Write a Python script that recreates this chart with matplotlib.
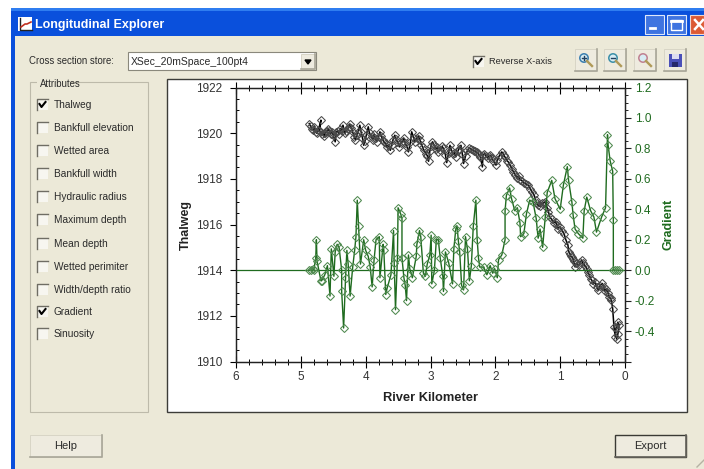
import matplotlib
matplotlib.use('Agg')
import matplotlib.pyplot as plt
from matplotlib.patches import Rectangle, Circle, Polygon
from matplotlib.lines import Line2D
from matplotlib.ticker import MultipleLocator

plt.rcParams['font.family'] = ['Liberation Sans', 'DejaVu Sans']

# river km / elevation of the thalweg
thalweg_km = [4.87, 4.85, 4.83, 4.81, 4.79, 4.77, 4.75, 4.73, 4.69, 4.71, 4.67, 4.65, 4.64, 4.62, 4.60, 4.58, 4.56,
              4.54, 4.52, 4.50, 4.47, 4.45, 4.43, 4.41, 4.39, 4.37, 4.35, 4.32, 4.30, 4.28, 4.26, 4.24, 4.22, 4.20,
              4.18, 4.16, 4.14, 4.12, 4.09, 4.07, 4.05, 4.03, 4.01, 3.99, 3.96, 3.94, 3.91, 3.89, 3.87, 3.85, 3.83,
              3.80, 3.78, 3.76, 3.74, 3.71, 3.69, 3.67, 3.65, 3.62, 3.60, 3.58, 3.55, 3.53, 3.51, 3.48, 3.46, 3.43,
              3.41, 3.39, 3.36, 3.34, 3.31, 3.29, 3.26, 3.24, 3.21, 3.18, 3.16, 3.14, 3.12, 3.10, 3.07, 3.05, 3.03,
              3.01, 2.99, 2.97, 2.95, 2.92, 2.90, 2.88, 2.85, 2.82, 2.80, 2.77, 2.75, 2.72, 2.70, 2.68, 2.65, 2.63,
              2.61, 2.58, 2.56, 2.53, 2.51, 2.49, 2.46, 2.43, 2.40, 2.38, 2.35, 2.33, 2.31, 2.29, 2.27, 2.25, 2.23,
              2.20, 2.19, 2.17, 2.15, 2.12, 2.10, 2.08, 2.05, 2.03, 1.99, 1.97, 1.94, 1.90, 1.87, 1.85, 1.82, 1.80,
              1.77, 1.74, 1.72, 1.69, 1.67, 1.64, 1.62, 1.59, 1.56, 1.53, 1.49, 1.46, 1.43, 1.40, 1.38, 1.36, 1.34,
              1.31, 1.28, 1.25, 1.23, 1.20, 1.18, 1.16, 1.13, 1.10, 1.07, 1.05, 1.03, 1.00, 0.97, 0.94, 0.91, 0.88,
              0.87, 0.85, 0.84, 0.82, 0.80, 0.79, 0.77, 0.75, 0.71, 0.69, 0.67, 0.65, 0.61, 0.59, 0.57,
              0.55, 0.53, 0.51, 0.49, 0.47, 0.43, 0.41, 0.39, 0.35, 0.33, 0.31, 0.29, 0.26, 0.24, 0.22,
              0.21, 0.19, 0.17, 0.15, 0.14, 0.11, 0.09, 0.11, 0.13]
thalweg_elev = [1920.42, 1920.30, 1920.18, 1920.13, 1920.28, 1920.05, 1919.99, 1920.12, 1920.57, 1920.08, 1919.95, 1920.02,
                1919.87, 1920.00, 1920.08, 1920.20, 1920.08, 1919.98, 1920.05, 1919.92, 1919.62, 1920.06, 1920.10, 1919.98,
                1920.20, 1920.10, 1920.35, 1919.99, 1920.08, 1920.18, 1920.28, 1920.39, 1920.22, 1920.05, 1919.85, 1919.72,
                1919.90, 1920.05, 1920.35, 1920.05, 1919.80, 1919.47, 1919.65, 1919.92, 1920.28, 1920.00, 1919.84, 1919.72,
                1919.95, 1919.80, 1919.62, 1919.85, 1920.06, 1919.88, 1919.72, 1919.60, 1919.55, 1919.38, 1919.48, 1919.25,
                1919.48, 1919.70, 1919.91, 1919.75, 1919.62, 1919.40, 1919.55, 1919.66, 1919.77, 1919.56, 1919.38, 1919.18,
                1919.60, 1920.06, 1919.80, 1919.62, 1919.78, 1919.88, 1919.69, 1919.50, 1919.38, 1919.25, 1919.10, 1919.02,
                1918.77, 1919.22, 1919.45, 1919.62, 1919.50, 1919.30, 1919.38, 1919.18, 1919.28, 1919.42, 1919.33, 1919.05,
                1918.71, 1919.15, 1919.47, 1919.28, 1919.08, 1919.15, 1918.96, 1919.20, 1919.32, 1919.47, 1919.10, 1918.67,
                1919.00, 1919.25, 1919.37, 1919.30, 1919.25, 1919.20, 1919.22, 1919.18, 1919.12, 1919.05, 1918.95, 1918.52,
                1919.04, 1919.10, 1919.02, 1918.92, 1919.00, 1919.04, 1918.90, 1918.78, 1918.60, 1918.82, 1919.00, 1919.18,
                1919.05, 1918.95, 1918.80, 1918.74, 1918.60, 1918.42, 1918.30, 1918.18, 1918.05, 1918.12, 1917.97, 1917.92,
                1917.82, 1917.78, 1917.72, 1917.55, 1917.42, 1917.28, 1917.08, 1916.92, 1916.84, 1916.80, 1916.92, 1916.95,
                1916.99, 1916.72, 1916.55, 1916.33, 1916.22, 1916.08, 1916.12, 1915.98, 1915.82, 1915.90, 1915.72, 1915.60,
                1915.31, 1915.10, 1914.80, 1914.72, 1914.62, 1914.58, 1914.50, 1914.38, 1914.14, 1914.30, 1914.22, 1914.35,
                1914.43, 1914.30, 1914.18, 1914.06, 1913.92, 1913.78, 1913.62, 1913.55, 1913.38, 1913.50, 1913.25, 1913.11,
                1913.30, 1913.42, 1913.26, 1913.08, 1913.18, 1912.98, 1912.82, 1912.78, 1912.68, 1912.31, 1911.51, 1911.07,
                1911.45, 1911.72, 1911.61, 1911.20, 1910.99]

# river km / gradient
gradient_km = [4.88, 4.85, 4.82, 4.80, 4.77, 4.76, 4.75, 4.69, 4.68, 4.63, 4.59, 4.55, 4.53, 4.49, 4.47, 4.44,
               4.41, 4.37, 4.37, 4.34, 4.31, 4.29, 4.27, 4.24, 4.20, 4.17, 4.15, 4.13, 4.11, 4.08, 4.03, 4.00,
               3.96, 3.93, 3.90, 3.87, 3.84, 3.79, 3.78, 3.73, 3.72, 3.69, 3.67, 3.61, 3.57, 3.56, 3.54, 3.51,
               3.50, 3.46, 3.44, 3.44, 3.41, 3.39, 3.37, 3.34, 3.32, 3.28, 3.22, 3.21, 3.17, 3.15, 3.11, 3.08,
               3.05, 3.01, 2.99, 2.98, 2.94, 2.91, 2.88, 2.85, 2.81, 2.80, 2.77, 2.72, 2.66, 2.64, 2.61, 2.59,
               2.57, 2.55, 2.52, 2.49, 2.46, 2.43, 2.40, 2.37, 2.34, 2.30, 2.28, 2.26, 2.24, 2.18, 2.13, 2.08,
               2.04, 2.01, 1.97, 1.95, 1.90, 1.85, 1.85, 1.83, 1.78, 1.75, 1.70, 1.66, 1.62, 1.61, 1.56, 1.52,
               1.47, 1.42, 1.37, 1.34, 1.31, 1.27, 1.23, 1.20, 1.13, 1.08, 1.00, 0.95, 0.89, 0.87, 0.82, 0.80,
               0.77, 0.72, 0.65, 0.63, 0.59, 0.53, 0.48, 0.44, 0.36, 0.30, 0.27, 0.26, 0.23, 0.19, 0.18, 0.18,
               0.15, 0.12, 0.09]
gradient_val = [0.00, 0.00, 0.01, 0.00, 0.08, 0.20, 0.06, -0.07, -0.07, -0.03, 0.03, -0.17, 0.14, -0.04, 0.12, 0.17,
                0.15, 0.00, -0.14, -0.38, -0.05, 0.13, 0.04, -0.17, 0.02, 0.13, 0.22, 0.46, 0.29, 0.04, 0.20, 0.13,
                0.09, 0.02, -0.11, 0.07, 0.20, 0.22, -0.05, 0.17, 0.13, -0.16, -0.12, -0.03, 0.26, 0.05, -0.26, 0.08,
                0.41, 0.37, 0.34, 0.08, -0.05, -0.10, -0.20, 0.10, 0.01, -0.05, 0.09, 0.17, 0.26, 0.22, -0.02, -0.04,
                0.04, 0.10, 0.23, -0.09, 0.00, 0.20, 0.20, 0.08, -0.04, -0.14, 0.12, 0.05, -0.09, 0.14, 0.27, 0.29,
                0.19, 0.12, -0.10, -0.13, 0.22, 0.14, -0.07, 0.03, 0.29, 0.46, 0.20, 0.08, 0.02, 0.02, -0.03, 0.03,
                -0.02, 0.01, -0.05, 0.07, 0.10, 0.20, 0.39, 0.49, 0.54, 0.47, 0.39, 0.41, 0.31, 0.22, 0.24, 0.37,
                0.46, 0.45, 0.34, 0.21, 0.27, 0.15, 0.35, 0.51, 0.59, 0.47, 0.40, 0.56, 0.68, 0.59, 0.45, 0.36,
                0.27, 0.24, 0.21, 0.39, 0.48, 0.39, 0.35, 0.25, 0.35, 0.41, 0.89, 0.82, 0.72, 0.65, 0.33, 0.00,
                0.00, 0.00, 0.00]

attributes = ['Thalweg', 'Bankfull elevation', 'Wetted area', 'Bankfull width', 'Hydraulic radius',
              'Maximum depth', 'Mean depth', 'Wetted perimiter', 'Width/depth ratio', 'Gradient', 'Sinuosity']
attr_checked = ['Thalweg', 'Gradient']
x_ticks = [0, 1, 2, 3, 4, 5, 6]
x_labels = ['0', '1', '2', '3', '4', '5', '6']
left_ticks = [1910, 1912, 1914, 1916, 1918, 1920, 1922]
left_labels = ['1910', '1912', '1914', '1916', '1918', '1920', '1922']
right_ticks = [-0.6, -0.4, -0.2, 0.0, 0.2, 0.4, 0.6, 0.8, 1.0, 1.2]
right_labels = ['', '-0.4', '-0.2', '0.0', '0.2', '0.4', '0.6', '0.8', '1.0', '1.2']

W, H = 704, 469
GREEN = '#1f6b1f'
GUI = '#ece9d8'

fig = plt.figure(figsize=(W / 100, H / 100), dpi=100, facecolor='white')

# window chrome, drawn in pixel coordinates
bg = fig.add_axes([0, 0, 1, 1])
bg.set_xlim(0, W)
bg.set_ylim(H, 0)
bg.axis('off')


def rect(x, y, w, h, fc, ec='none', lw=0.8, z=1):
    bg.add_patch(Rectangle((x, y), w, h, facecolor=fc, edgecolor=ec, linewidth=lw, zorder=z))


def label(x, y, s, size=7.3, color='#2a2a2a', **kw):
    bg.text(x, y, s, fontsize=size, color=color, va='center', zorder=5, **kw)


def checkbox(x, y, checked):
    rect(x, y, 11, 11, '#f7f6f0', z=3)
    bg.add_line(Line2D([x, x, x + 11], [y + 11, y, y], color='#6f6d64', lw=1.0, zorder=4))
    if checked:
        bg.add_line(Line2D([x + 2.5, x + 4.5, x + 8.5], [y + 5, y + 8, y + 3], color='black', lw=1.5, zorder=4))


def button(x, y, w, h, s=None, dark=False):
    rect(x, y, w, h, '#eeebdf', '#3a3a34' if dark else '#d8d5c6', 1.0 if dark else 0.7, 3)
    bg.add_line(Line2D([x, x + w, x + w], [y + h, y + h, y], color='#66645c' if dark else '#a8a698', lw=1.2, zorder=4))
    if s:
        label(x + w / 2, y + h / 2, s, size=8, ha='center')


rect(11, 8, 693, 461, GUI, z=0)
rect(11, 8, 693, 28, '#0a50dc')
rect(11, 8, 693, 3, '#2f7df0')
rect(11, 36, 4, 433, '#0a4fdc')
bg.text(35, 25, 'Longitudinal Explorer', fontsize=9, fontweight='bold', color='white', va='center', zorder=5)

# title bar icon
rect(18, 17, 14, 14, 'white', z=3)
bg.add_line(Line2D([20, 20, 32], [18, 30, 30], color='#222222', lw=1, zorder=4))
bg.add_line(Line2D([21, 25, 27, 31], [27, 24, 24, 22], color='#c03020', lw=1.2, zorder=4))

# window buttons
for bx, col in [(645, '#3f74e0'), (667, '#3f74e0')]:
    rect(bx, 15, 19, 19, col, '#dfe8fb', 0.8, 3)
rect(690, 15, 14, 19, '#dc5a34', '#f0d8d0', 0.8, 3)
bg.add_line(Line2D([650, 655], [28, 28], color='white', lw=2, zorder=4))
rect(671, 20, 11, 10, 'none', 'white', 1.0, 4)
bg.add_line(Line2D([671, 682], [21, 21], color='white', lw=2, zorder=4))
bg.add_line(Line2D([695, 703], [20, 29], color='white', lw=1.8, zorder=4))
bg.add_line(Line2D([695, 703], [29, 20], color='white', lw=1.8, zorder=4))

# store selector row
label(29, 61, 'Cross section store:', size=6.9)
rect(128, 52, 188, 18, 'white', '#8a887c', 0.8, 3)
label(131, 62, 'XSec_20mSpace_100pt4', size=7.5)
button(301, 54, 14, 15)
bg.add_patch(Polygon([[305, 60], [311, 60], [308, 64]], color='black', zorder=5))
checkbox(473, 56, True)
label(489, 62, 'Reverse X-axis', size=6.7)

# toolbar
for bx in [575, 604, 634, 664]:
    button(bx, 49, 22, 22)
for cx, col in [(584, '#3b7fb0'), (613, '#3b8fa8'), (643, '#c08090')]:
    bg.add_patch(Circle((cx, 58), 4.2, facecolor='#d8ecf4', edgecolor=col, lw=1.1, zorder=5))
    bg.add_line(Line2D([cx + 3, cx + 8], [61, 66], color='#b09a58', lw=1.7, zorder=5))
bg.add_line(Line2D([582, 586], [58, 58], color='#204060', lw=1, zorder=6))
bg.add_line(Line2D([584, 584], [56, 60], color='#204060', lw=1, zorder=6))
bg.add_line(Line2D([611, 615], [58, 58], color='#204060', lw=1, zorder=6))
rect(669, 54, 13, 13, '#4a50b8', z=5)
rect(672, 54, 7, 5, '#dcdcf0', z=6)
rect(672, 62, 6, 5, '#26286a', z=6)

# attributes group box
rect(30, 82, 118, 330, 'none', '#bdbaaa', 0.8, 2)
rect(37, 78, 33, 8, GUI, z=3)
label(40, 84, 'Attributes', size=6.9)
row_y = [105, 128, 151, 174, 197, 220, 244, 267, 290, 312, 334]
for name, ry in zip(attributes, row_y):
    checkbox(37, ry - 6, name in attr_checked)
    label(54, ry, name)

# chart panel
rect(167, 79, 520, 333, 'white', '#3c3c38', 1.0, 1)

button(30, 435, 72, 22, 'Help')
button(615, 435, 71, 22, 'Export', dark=True)
bg.add_line(Line2D([697, 704], [467, 460], color='#b5b2a3', lw=1, zorder=3))

# the plot itself
ax = fig.add_axes([236 / W, 1 - 361.5 / H, (625 - 236) / W, (361.5 - 87.5) / H])
ax.patch.set_alpha(0)
ax.set_zorder(3)
ax.set_xlim(6, 0)
ax.set_ylim(1910, 1922)
ax.plot(thalweg_km, thalweg_elev, color='black', lw=1.1, marker='D', ms=3.6, mfc='none', mec='#4a4a4a', mew=0.75, zorder=3)

ax.set_xticks(x_ticks, x_labels)
ax.xaxis.set_minor_locator(MultipleLocator(0.2))
ax.set_yticks(left_ticks, left_labels)
ax.yaxis.set_minor_locator(MultipleLocator(0.5))
ax.tick_params(axis='x', which='major', direction='inout', length=8, width=0.8, top=True, labelsize=8.5, labelcolor='#333333', pad=3)
ax.tick_params(axis='x', which='minor', direction='inout', length=4, width=0.7, top=True)
ax.tick_params(axis='y', which='major', direction='out', length=4, width=0.8, labelsize=8.5, labelcolor='#333333', pad=6)
ax.tick_params(axis='y', which='minor', direction='in', length=2.5, width=0.7)
ax.set_xlabel('River Kilometer', fontsize=9.3, fontweight='bold', color='#222222', labelpad=6)
ax.set_ylabel('Thalweg', fontsize=9, fontweight='bold', color='#222222', labelpad=3)
for s in ax.spines.values():
    s.set_linewidth(0.9)
    s.set_color('#222222')

ax2 = ax.twinx()
ax2.set_zorder(4)
ax2.set_ylim(-0.6, 1.2)
ax2.axhline(0, color=GREEN, lw=0.9, zorder=2)
ax2.plot(gradient_km, gradient_val, color=GREEN, lw=1.0, marker='D', ms=3.6, mfc='none', mec='#4f8a4f', mew=0.75, zorder=3)
ax2.set_yticks(right_ticks, right_labels)
ax2.yaxis.set_minor_locator(MultipleLocator(0.05))
ax2.tick_params(axis='y', which='major', direction='out', length=4, width=0.8, labelsize=8.5, labelcolor=GREEN, color='#222222', pad=3)
ax2.tick_params(axis='y', which='minor', direction='out', length=2.2, width=0.7, color='#222222')
ax2.set_ylabel('Gradient', fontsize=9, fontweight='bold', color=GREEN, labelpad=5)
for s in ax2.spines.values():
    s.set_linewidth(0.9)
    s.set_color('#222222')

fig.savefig('out.png', dpi=100)
